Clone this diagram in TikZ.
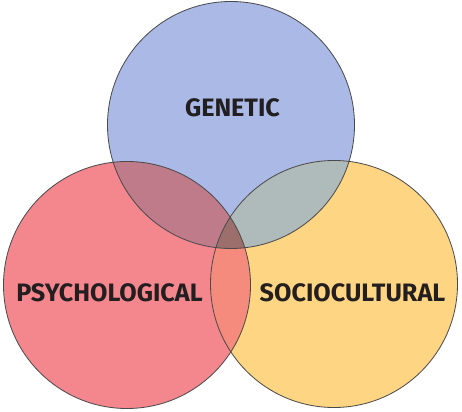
\documentclass[tikz,border=0pt]{standalone}
\usepackage{fontspec}
\setsansfont{Fira Sans}
\usetikzlibrary{positioning}
\definecolor{genblue}{HTML}{AAB9E5}
\definecolor{psyred}{HTML}{F4878E}
\definecolor{socyellow}{HTML}{FED583}
\definecolor{gpmix}{HTML}{C07B8B}
\definecolor{gsmix}{HTML}{AEBBBA}
\definecolor{psmix}{HTML}{F58B7C}
\definecolor{allmix}{HTML}{9C6F6C}
\definecolor{ringgray}{HTML}{4A4A4A}
\definecolor{labelblack}{HTML}{231F20}
\tikzstyle{ring} = [draw=ringgray, line width=0.7pt]
\tikzstyle{label} = [font=\sffamily\bfseries\fontsize{21.5}{21.5}\selectfont, text=labelblack, inner sep=0pt]

\begin{document}
\begin{tikzpicture}[x=0.03cm, y=0.03cm]
	\useasboundingbox (0,0) rectangle (462,412);
	\coordinate (gen) at ( 231, 287 );
	\coordinate (psy) at ( 127, 127 );
	\coordinate (soc) at ( 334, 128 );
	\def\rad{123.5}

	% plain discs
	\fill[genblue] (gen) circle (\rad);
	\fill[psyred] (psy) circle (\rad);
	\fill[socyellow] (soc) circle (\rad);

	% overlaps
	\begin{scope}
		\clip (gen) circle (\rad);
		\fill[gpmix] (psy) circle (\rad);
		\fill[gsmix] (soc) circle (\rad);
	\end{scope}
	\begin{scope}
		\clip (psy) circle (\rad);
		\fill[psmix] (soc) circle (\rad);
		\clip (soc) circle (\rad);
		\fill[allmix] (gen) circle (\rad);
	\end{scope}

	\draw[ring] (gen) circle (\rad);
	\draw[ring] (psy) circle (\rad);
	\draw[ring] (soc) circle (\rad);

	\node[label] (genetic) at ( 232.5, 304 ) { GENETIC };
	\node[label] (psychological) at ( 109.5, 119.5 ) { PSYCHOLOGICAL };
	\node[label] (sociocultural) at ( 352.5, 119.5 ) { SOCIOCULTURAL };
\end{tikzpicture}
\end{document}
